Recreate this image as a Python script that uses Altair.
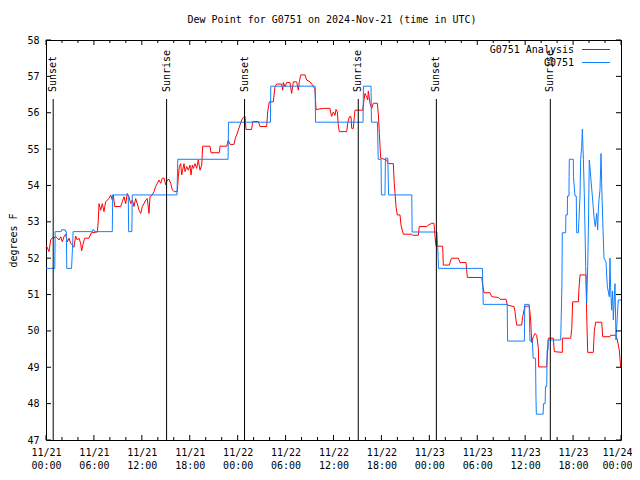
import altair as alt
import pandas as pd

# ---------------- data (hours since 2024-11-21 00:00 UTC, dew point degF) ----------------
red_hours = [0, 0.08, 0.38, 0.58, 0.79, 1.0, 1.21, 1.42, 1.63, 1.84, 2.04, 2.25, 2.46, 2.67, 2.88, 3.09, 3.3, 3.5,
             3.71, 3.92, 4.13, 4.34, 4.46, 4.67, 4.84, 5.38, 5.68, 6.43, 6.55, 6.64, 6.85, 7.05, 7.26, 7.47, 7.89,
             8.1, 8.3, 8.43, 8.6, 9.35, 9.55, 9.77, 9.98, 10.18, 10.39, 10.6, 10.81, 11.02, 11.23, 11.43, 11.65,
             11.86, 12.06, 12.27, 12.48, 12.68, 12.9, 13.02, 13.31, 13.52, 13.73, 13.94, 14.15, 14.36, 14.56, 14.78,
             14.99, 15.19, 15.4, 15.61, 15.82, 16.03, 16.44, 16.57, 16.69, 16.87, 16.99, 17.11, 17.28, 17.41, 17.62,
             17.82, 18.03, 18.16, 18.32, 18.45, 18.66, 18.87, 19.07, 19.28, 19.5, 19.62, 20.54, 20.66, 21.7, 21.79,
             22.63, 22.83, 23.04, 23.54, 23.71, 23.88, 24.08, 24.29, 24.5, 24.71, 24.92, 25.04, 25.75, 25.88, 26.59,
             26.8, 27.63, 27.76, 27.96, 28.46, 28.68, 28.89, 29.51, 29.64, 29.72, 29.93, 30.14, 30.55, 30.76, 30.97,
             31.39, 31.6, 31.72, 31.89, 32.43, 32.64, 33.06, 33.47, 33.68, 33.81, 34.73, 35.56, 35.69, 35.77, 35.98,
             36.19, 36.31, 36.48, 36.6, 36.73, 37.65, 37.78, 37.98, 38.19, 38.28, 38.48, 38.61, 38.69, 39.65, 39.82,
             39.94, 40.15, 40.28, 40.36, 40.57, 40.78, 40.99, 41.49, 41.62, 41.74, 41.91, 42.66, 42.86, 43.49, 43.61,
             43.83, 43.99, 44.33, 44.45, 44.74, 45.79, 45.91, 46.62, 46.74, 47.67, 47.87, 48.3, 48.58, 48.71, 48.84,
             49.67, 49.75, 50.5, 50.68, 50.8, 51.63, 51.84, 52.59, 52.76, 54.56, 54.68, 54.85, 55.6, 55.81, 56.64,
             56.85, 57.6, 57.77, 58.6, 58.73, 58.85, 58.94, 59.56, 59.69, 59.85, 60.02, 60.52, 60.69, 60.82, 61.02,
             61.23, 61.44, 61.65, 61.69, 62.69, 62.9, 63.53, 63.65, 64.65, 64.66, 65.7, 65.83, 65.91, 65.95, 66.66,
             66.74, 66.87, 67.62, 67.7, 67.83, 68.53, 68.66, 68.83, 69.58, 69.71, 70.62, 70.7, 71.37, 71.54, 71.79,
             71.96]
red_values = [52.3, 52.33, 52.18, 52.5, 52.56, 52.56, 52.59, 52.55, 52.5, 52.59, 52.45, 52.59, 52.66, 52.45, 52.55,
              52.41, 52.36, 52.3, 52.61, 52.5, 52.55, 52.41, 52.2, 52.41, 52.55, 52.55, 52.7, 52.72, 53.05, 53.5,
              53.32, 53.5, 53.28, 53.55, 53.64, 53.74, 53.6, 53.74, 53.42, 53.42, 53.55, 53.69, 53.5, 53.78, 53.69,
              53.5, 53.6, 53.42, 53.64, 53.5, 53.32, 53.23, 53.42, 53.5, 53.6, 53.64, 53.23, 53.69, 53.74, 53.83,
              53.97, 54.06, 54.15, 54.06, 54.2, 54.2, 54.02, 54.15, 54.17, 54.06, 53.88, 53.83, 53.83, 54.24, 54.52,
              54.6, 54.29, 54.42, 54.6, 54.38, 54.52, 54.42, 54.56, 54.29, 54.56, 54.47, 54.6, 54.47, 54.7, 54.42,
              54.56, 55.08, 55.08, 54.9, 54.9, 55.08, 55.08, 55.25, 55.13, 55.13, 55.3, 55.39, 55.52, 55.66, 55.8,
              55.87, 55.9, 55.54, 55.54, 55.76, 55.76, 55.62, 55.62, 56.03, 56.3, 56.3, 56.72, 56.79, 56.79, 56.62,
              56.83, 56.72, 56.83, 56.83, 56.53, 56.85, 56.85, 56.62, 56.85, 57.04, 57.04, 56.9, 56.85, 56.73, 56.64,
              56.09, 56.12, 56.12, 55.96, 55.9, 56.02, 55.93, 56.09, 56.02, 55.66, 55.48, 55.48, 55.71, 55.89, 55.89,
              55.57, 55.57, 55.89, 56.07, 56.07, 56.35, 56.53, 56.44, 56.35, 56.6, 56.26, 56.12, 56.26, 56.26, 55.94,
              55.43, 54.75, 54.7, 54.6, 54.6, 54.06, 53.42, 53.19, 53.19, 52.91, 52.66, 52.66, 52.63, 52.63, 52.87,
              52.87, 52.91, 52.96, 52.96, 52.59, 52.33, 52.33, 51.81, 51.81, 51.95, 52.0, 52.0, 51.88, 51.88, 51.47,
              51.47, 51.26, 51.05, 51.05, 50.94, 50.92, 50.87, 50.87, 50.71, 50.67, 50.53, 50.3, 50.16, 50.16, 50.39,
              50.57, 50.68, 50.68, 50.3, 49.68, 49.84, 49.93, 49.88, 49.52, 49.01, 49.01, 49.8, 49.8, 49.43, 49.41,
              49.8, 49.8, 50.04, 50.55, 50.8, 50.8, 51.17, 51.54, 51.54, 50.48, 49.41, 49.41, 50.0, 50.24, 50.24,
              49.84, 49.84, 49.88, 49.88, 49.75, 49.47, 49.0]

blue_hours = [0, 1.1, 1.15, 1.9, 1.95, 2.4, 2.45, 2.55, 2.6, 3.2, 3.3, 3.4, 5.8, 5.85, 6.0, 6.05, 8.3, 8.35, 10.3,
              10.35, 10.75, 10.8, 16.4, 16.5, 22.8, 22.85, 28.1, 28.15, 33.7, 33.75, 39.7, 39.75, 40.7, 40.75, 41.5,
              41.6, 41.95, 42.0, 42.45, 42.5, 42.8, 42.9, 45.8, 45.85, 48.95, 49.05, 49.15, 54.65, 54.7, 54.75, 57.75,
              57.8, 59.9, 59.95, 60.5, 60.6, 60.9, 61.0, 61.3, 61.35, 61.4, 62.25, 62.3, 62.5, 62.55, 62.7, 62.75,
              62.85, 62.9, 64.45, 64.5, 64.6, 64.65, 65.07, 65.1, 65.28, 65.3, 65.49, 65.5, 65.53, 66.03, 66.05,
              66.24, 66.4, 66.45, 66.66, 66.87, 66.95, 67.08, 67.16, 67.29, 67.41, 67.58, 67.7, 67.83, 67.91, 68.03,
              68.12, 68.24, 68.41, 68.53, 68.66, 68.78, 68.95, 69.08, 69.16, 69.24, 69.37, 69.5, 69.58, 69.71, 69.87,
              70.12, 70.29, 70.54, 70.62, 70.7, 70.83, 70.95, 71.04, 71.25, 71.37, 71.54, 71.66, 71.87, 72]
blue_values = [51.72, 51.72, 52.73, 52.73, 52.78, 52.78, 52.73, 52.73, 51.72, 51.72, 52.2, 52.73, 52.73, 52.78,
               52.78, 52.73, 52.73, 53.74, 53.74, 52.73, 52.73, 53.74, 53.74, 54.72, 54.72, 55.74, 55.74, 56.73,
               56.73, 55.74, 55.74, 56.73, 56.73, 55.74, 55.74, 54.72, 54.72, 53.74, 53.74, 54.75, 54.75, 53.74,
               53.74, 52.72, 52.72, 52.3, 51.72, 51.72, 51.2, 50.73, 50.73, 49.72, 49.72, 50.73, 50.73, 49.72, 49.72,
               49.25, 49.25, 48.2, 47.71, 47.71, 48.0, 48.0, 48.47, 48.47, 49.47, 49.47, 49.75, 49.75, 50.23, 51.23,
               52.7, 52.7, 53.19, 53.19, 53.71, 53.71, 54.24, 54.72, 54.72, 54.24, 53.71, 53.71, 52.7, 52.7, 53.71,
               54.72, 55.07, 55.55, 54.72, 53.71, 51.77, 50.77, 51.77, 52.7, 54.7, 54.5, 54.15, 53.71, 53.38, 53.05,
               52.87, 53.23, 52.78, 53.32, 53.6, 53.87, 54.88, 54.06, 53.05, 52.0, 51.9, 51.21, 50.94, 52.0, 51.2,
               50.57, 51.1, 50.3, 51.3, 49.75, 50.4, 50.85, 50.85, 50.85]

sun_hours = [0.9, 15.1, 24.86, 39.1, 48.88, 63.15]
sun_labels = ["Sunset", "Sunrise", "Sunset", "Sunrise", "Sunset", "Sunrise"]

series_names = ["G0751 Analysis", "G0751"]
series_colors = ["#ff0000", "#1080ff"]

x_major = list(range(0, 73, 6))
x_minor = [h for h in range(0, 73, 2) if h % 6]
y_ticks = list(range(47, 59))

TITLE = "Dew Point for G0751 on 2024-Nov-21 (time in UTC)"
FONT = "DejaVu Sans Mono"
FS = 10
W, H = 575, 400

# ---------------- frames ----------------
red_df = pd.DataFrame({"h": red_hours, "v": red_values, "i": range(len(red_hours))})
blue_df = pd.DataFrame({"h": blue_hours, "v": blue_values, "i": range(len(blue_hours))})
sun_df = pd.DataFrame({"h": sun_hours, "label": sun_labels})
xmaj_df = pd.DataFrame({"h": x_major})
xmin_df = pd.DataFrame({"h": x_minor})
ytk_df = pd.DataFrame({"v": y_ticks})
title_df = pd.DataFrame({"t": [TITLE]})

xs = alt.Scale(domain=[0, 72], nice=False, zero=False)
ys = alt.Scale(domain=[47, 58], nice=False, zero=False)

x_axis = alt.Axis(
    values=x_major,
    labelExpr="['11/' + (21 + floor(datum.value / 24)), (datum.value % 24 < 10 ? '0' : '') + (datum.value % 24) + ':00']",
    ticks=False, domain=False, grid=False, title=None,
    labelFont=FONT, labelFontSize=FS, labelColor="black",
    labelPadding=7, labelLineHeight=13.5, labelBaseline="top", labelFlush=False,
    labelAlign={"condition": {"test": "datum.value >= 72", "value": "right"}, "value": "center"},
    labelOffset={"condition": {"test": "datum.value >= 72", "value": 11}, "value": 0},
)
y_axis = alt.Axis(
    values=y_ticks, format="d",
    ticks=False, domain=False, grid=False,
    labelFont=FONT, labelFontSize=FS, labelColor="black", labelPadding=7,
    title="degrees F", titleFont=FONT, titleFontSize=FS, titleFontWeight="normal",
    titleColor="black", titleAngle=270, titleX=-33, titleY=H / 2,
    titleAlign="center", titleBaseline="middle",
)

XH = alt.X("h:Q", scale=xs, axis=x_axis)
YV = alt.Y("v:Q", scale=ys, axis=y_axis)

red_line = alt.Chart(red_df).mark_line(color=series_colors[0], strokeWidth=1).encode(
    x=XH, y=YV, order="i:Q")
blue_line = alt.Chart(blue_df).mark_line(color=series_colors[1], strokeWidth=1).encode(
    x=XH, y=YV, order="i:Q")

sun_rules = alt.Chart(sun_df).mark_rule(color="black", strokeWidth=1).encode(
    x=XH, y=alt.value(59), y2=alt.value(H))
sun_text = alt.Chart(sun_df).mark_text(
    angle=270, align="left", baseline="middle", font=FONT, fontSize=FS, color="black"
).encode(x=XH, y=alt.value(52), text="label:N")

def xtick(df, a, b):
    return alt.Chart(df).mark_rule(color="black", strokeWidth=1).encode(
        x=XH, y=alt.value(a), y2=alt.value(b))

def ytick(df, a, b):
    return alt.Chart(df).mark_rule(color="black", strokeWidth=1).encode(
        y=YV, x=alt.value(a), x2=alt.value(b))

ticks = [
    xtick(xmaj_df, H, H - 5), xtick(xmaj_df, 0, 5),
    xtick(xmin_df, H, H - 3), xtick(xmin_df, 0, 3),
    ytick(ytk_df, 0, 5), ytick(ytk_df, W, W - 5),
]

legend_layers = []
for k, (name, col) in enumerate(zip(series_names, series_colors)):
    yy = 10 + 13 * k
    ldf = pd.DataFrame({"name": [name]})
    legend_layers.append(
        alt.Chart(ldf).mark_text(align="right", baseline="middle", font=FONT, fontSize=FS, color="black")
        .encode(x=alt.value(528), y=alt.value(yy), text="name:N"))
    legend_layers.append(
        alt.Chart(ldf).mark_rule(color=col, strokeWidth=1)
        .encode(x=alt.value(536), x2=alt.value(564), y=alt.value(yy - 0.5)))

title_text = alt.Chart(title_df).mark_text(
    align="center", baseline="bottom", font=FONT, fontSize=FS, color="black"
).encode(x=alt.value(286), y=alt.value(-15), text="t:N")

chart = alt.layer(
    red_line, blue_line, sun_rules, sun_text, *ticks, *legend_layers, title_text
).properties(
    width=W, height=H,
    autosize=alt.AutoSizeParams(type="none"),
    padding={"left": 38, "top": 32, "right": 11, "bottom": 32},
    background="white",
).configure_view(stroke="black", strokeWidth=1)

chart.save("out.html", embed_options={"renderer": "svg", "actions": False})
